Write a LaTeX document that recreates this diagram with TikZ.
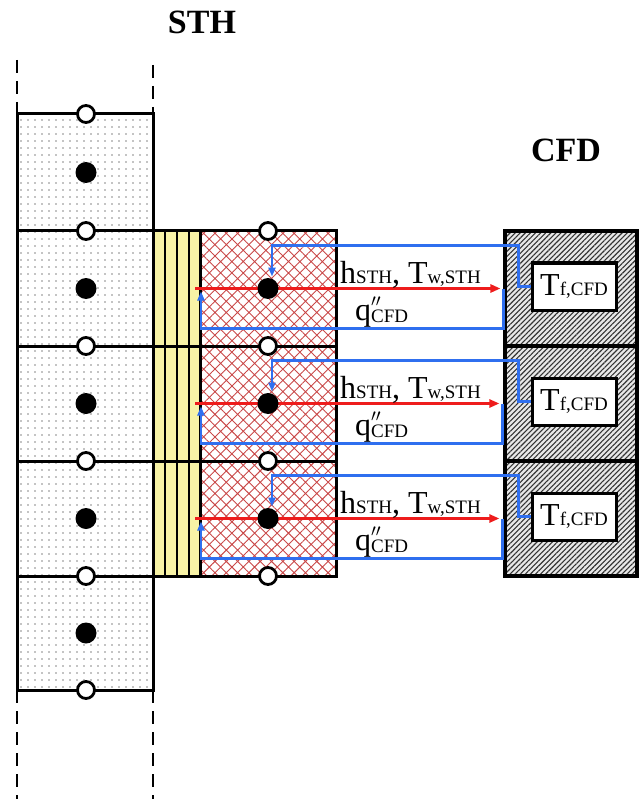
\documentclass[tikz,border=0pt]{standalone}
\usepackage{fontspec}
\setmainfont{Liberation Serif}
\usetikzlibrary{arrows.meta,patterns.meta,calc}
\definecolor{Wall}{HTML}{F8F3A6}
\definecolor{Mesh}{HTML}{C94848}
\definecolor{Flow}{HTML}{2F6FEF}
\definecolor{Heat}{HTML}{EE1C1C}
\definecolor{Shade}{HTML}{333333}
\newcommand{\subsz}{\fontsize{19}{19}\selectfont}
\newcommand{\lblsz}{\fontsize{32}{34}\selectfont}

\begin{document}
\begin{tikzpicture}[x=1pt,y=-1pt,
    edge/.style={line width=3pt},
    gap/.style={line width=2.4pt,dash pattern=on 13pt off 8pt},
    port/.style={circle,draw,line width=2.8pt,fill=white,inner sep=0pt,minimum size=17pt},
    dot/.style={circle,fill=black,inner sep=0pt,minimum size=21pt},
    cfdcell/.style={draw,line width=3.2pt,minimum width=132pt,minimum height=115pt,inner sep=0pt,
      preaction={fill=gray!18},pattern={Lines[angle=45,distance=3.6pt,line width=1.1pt]},pattern color=Shade},
    tfbox/.style={draw,line width=3pt,fill=white,minimum width=84pt,minimum height=47pt,inner sep=0pt,font=\lblsz},
    heat/.style={Heat,line width=3pt,-{Triangle[length=10pt,width=8pt]},shorten >=4pt},
    flow/.style={Flow,line width=2.6pt,-{Triangle[length=9pt,width=7pt]}},
    title/.style={font=\fontsize{34}{36}\selectfont\bfseries}]
  \useasboundingbox (0,0) rectangle (641,799);

  % STH pipe column
  \fill[pattern={Dots[distance=7pt,radius=0.7pt]}] (17,114) rectangle (153,690);
  \draw[edge] (17,114) rectangle (153,690);
  \draw[gap] (17,60) -- (17,114) (153,65) -- (153,114);
  \draw[gap] (17,690) -- (17,799) (153,690) -- (153,799);

  % wall and heat structure
  \fill[Wall] (153,231) rectangle (200,576);
  \foreach \x in {165,177,189} \draw[line width=2.2pt] (\x,231) -- (\x,576);
  \fill[pattern={Hatch[angle=45,distance=8pt,line width=0.9pt]},pattern color=Mesh] (200,231) rectangle (336,576);
  \draw[edge] (153,231) rectangle (336,576);
  \draw[edge] (200,231) -- (200,576);
  \foreach \y in {231,346,461,576} \draw[edge] (17,\y) -- (336,\y);

  \node[title] (sth) at (202,22) {STH};
  \node[title] (cfd) at (566,150) {CFD};

  \foreach \i/\c in {1/288.5,2/403.5,3/518.5} {
    \node[cfdcell] (cfd\i) at (571,\c) {};
    \node[tfbox] (tf\i) at (574,\c-2) {T{\subsz f,CFD}};
    \coordinate (in\i) at (195,\c);
    \draw[heat] (in\i) -- (cfd\i.west);
    \node[dot] (hd\i) at (268,\c) {};
    \coordinate (top\i) at (272,\c-12);
    \coordinate (low\i) at (201,\c+3);
    \draw[flow] (tf\i.west) -- ++(-12,0) |- (272,\c-43) -- (top\i);
    \draw[flow] ($(cfd\i.west)+(-1,0)$) -- ++(0,40) -| (low\i);
    \node[font=\lblsz,anchor=base west,inner sep=0pt] (bc\i) at (340,\c-5.5) {h{\subsz STH}, T{\subsz w,STH}};
    \node[font=\lblsz,anchor=base west,inner sep=0pt] (qf\i) at (355,\c+31.5) {q\rlap{\raisebox{0.9ex}{\subsz$\prime\prime$}}\raisebox{-2pt}{\subsz CFD}};
  }

  % junctions and volume centres
  \foreach \y [count=\k] in {172.5,288.5,403.5,518.5,633} \node[dot] (ld\k) at (86,\y) {};
  \foreach \y [count=\k] in {114,231,346,461,576,690} \node[port] (lp\k) at (86,\y) {};
  \foreach \y [count=\k] in {231,346,461,576} \node[port] (rp\k) at (268,\y) {};
\end{tikzpicture}
\end{document}
